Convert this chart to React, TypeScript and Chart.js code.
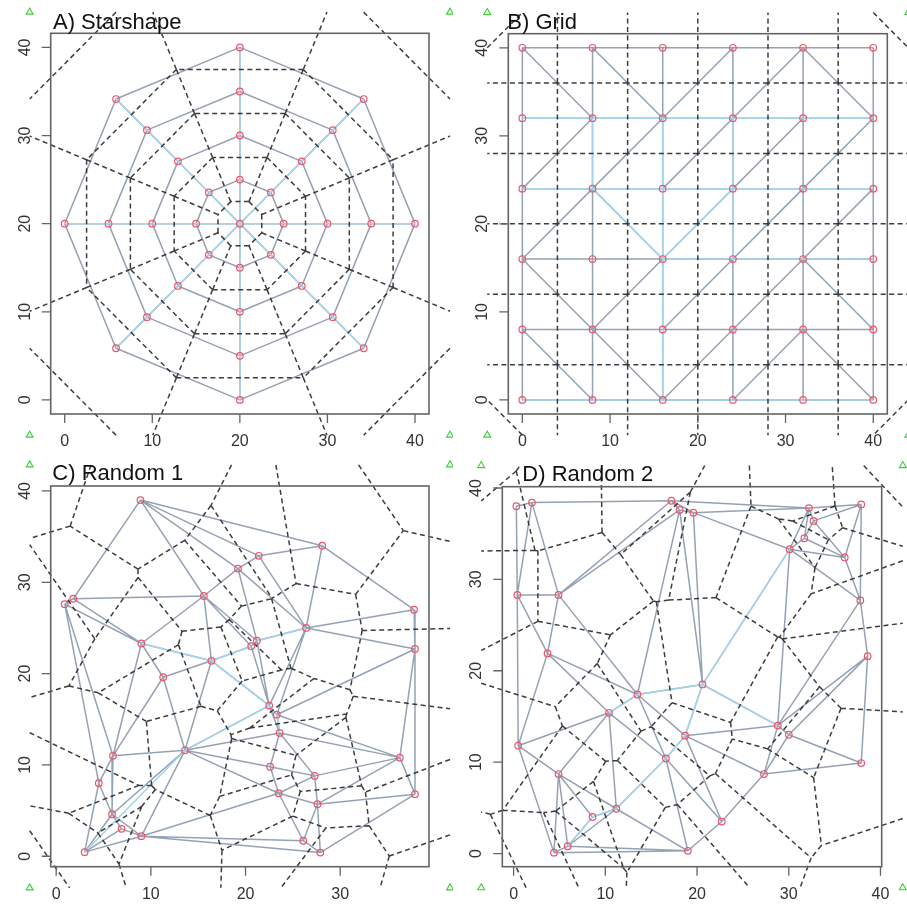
import React, { useEffect, useRef } from 'react';
import { Chart, registerables } from 'chart.js';

Chart.register(...registerables);

type P = [number, number];

// ---------- A) Starshape: centre point plus four rings of eight ----------
const starshapeX = [20,
  20, 23.54, 25, 23.54, 20, 16.46, 15, 16.46,
  20, 27.07, 30, 27.07, 20, 12.93, 10, 12.93,
  20, 30.61, 35, 30.61, 20, 9.39, 5, 9.39,
  20, 34.14, 40, 34.14, 20, 5.86, 0, 5.86];
const starshapeY = [20,
  25, 23.54, 20, 16.46, 15, 16.46, 20, 23.54,
  30, 27.07, 20, 12.93, 10, 12.93, 20, 27.07,
  35, 30.61, 20, 9.39, 5, 9.39, 20, 30.61,
  40, 34.14, 20, 5.86, 0, 5.86, 20, 34.14];
const starshapeHighlight: [number, number][] = [
  [0, 1], [0, 2], [0, 3], [0, 4], [0, 5], [0, 6], [0, 7], [0, 8],
  [1, 9], [2, 10], [3, 11], [4, 12], [5, 13], [6, 14], [7, 15], [8, 16],
  [9, 17], [10, 18], [11, 19], [12, 20], [13, 21], [14, 22], [15, 23], [16, 24],
  [17, 25], [18, 26], [19, 27], [20, 28], [21, 29], [22, 30], [23, 31], [24, 32],
];

// ---------- B) Grid ----------
const gridLevels = [0, 8, 16, 24, 32, 40];
// diagonal of each cell, rows listed from the top row down, cells left to right
const gridDiagonals = [
  ['\\', '\\', '/', '/', '\\'],
  ['/', '/', '/', '/', '/'],
  ['/', '\\', '/', '/', '/'],
  ['\\', '/', '/', '/', '\\'],
  ['\\', '\\', '/', '/', '\\'],
];
// point index = row * 6 + column (row 0 at y = 0)
const gridHighlight: [number, number][] = [
  [24, 25], [25, 26], [26, 27], [27, 28], [28, 29],
  [18, 19], [19, 20], [20, 21], [21, 22], [22, 23],
  [14, 15], [15, 16], [16, 17],
  [0, 1], [1, 2], [2, 3], [3, 4], [4, 5],
  [25, 19], [26, 20], [20, 14], [14, 8], [8, 2], [27, 21], [21, 15],
  [19, 14], [14, 21],
];

// ---------- C) Random 1 ----------
const random1X = [8.9, 28.1, 21.4, 19.2, 15.6, 1.8, 0.9, 37.8, 26.4, 9.0, 21.2, 20.6, 37.9, 16.4, 11.3,
  22.5, 23.3, 23.6, 13.6, 6.0, 36.3, 22.6, 27.3, 4.5, 23.5, 37.9, 27.6, 5.9, 6.9, 9.0, 26.1, 3.0, 27.9];
const random1Y = [39.0, 34.0, 32.9, 31.5, 28.5, 28.2, 27.6, 27.0, 25.0, 23.3, 23.6, 23.0, 22.7, 21.4, 19.6,
  16.5, 15.5, 13.5, 11.6, 11.0, 10.8, 9.8, 8.8, 8.0, 6.9, 6.8, 5.7, 4.6, 3.0, 2.2, 1.7, 0.45, 0.4];
const random1Highlight: [number, number][] = [
  [31, 18], [18, 15], [15, 13], [13, 9], [15, 16], [16, 17], [10, 8], [11, 13],
];

// ---------- D) Random 2 ----------
const random2X = [0.3, 2.0, 17.2, 18.1, 19.6, 32.2, 37.9, 32.7, 31.7, 30.1, 36.1, 0.4, 4.9, 37.8, 3.7, 38.6,
  20.6, 13.5, 10.4, 28.8, 30.0, 18.7, 0.5, 16.6, 37.9, 27.3, 4.9, 11.2, 8.6, 22.7, 5.9, 4.4, 19.0];
const random2Y = [38.0, 38.4, 38.6, 37.6, 37.3, 37.8, 38.2, 36.4, 34.5, 33.3, 32.4, 28.3, 28.3, 27.7, 21.9, 21.6,
  18.5, 17.4, 15.4, 14.0, 13.0, 12.9, 11.8, 10.4, 9.9, 8.7, 8.7, 4.9, 4.0, 3.5, 0.8, 0.1, 0.3];
const random2Highlight: [number, number][] = [
  [30, 28], [28, 27], [27, 23], [23, 21], [21, 16], [16, 9], [18, 17], [17, 16], [16, 19],
];

const axisTicks = [0, 10, 20, 30, 40];

// ---------- geometry ----------
function circumcenter(a: P, b: P, c: P): P {
  const d = 2 * (a[0] * (b[1] - c[1]) + b[0] * (c[1] - a[1]) + c[0] * (a[1] - b[1]));
  const a2 = a[0] * a[0] + a[1] * a[1];
  const b2 = b[0] * b[0] + b[1] * b[1];
  const c2 = c[0] * c[0] + c[1] * c[1];
  return [
    (a2 * (b[1] - c[1]) + b2 * (c[1] - a[1]) + c2 * (a[1] - b[1])) / d,
    (a2 * (c[0] - b[0]) + b2 * (a[0] - c[0]) + c2 * (b[0] - a[0])) / d,
  ];
}

const d2 = (p: P, q: P) => (p[0] - q[0]) ** 2 + (p[1] - q[1]) ** 2;
const keyOf = (a: number, b: number) => (a < b ? `${a},${b}` : `${b},${a}`);

// Bowyer-Watson triangulation
function triangulate(pts: P[]): number[][] {
  const n = pts.length;
  const xs = pts.map((p) => p[0]);
  const ys = pts.map((p) => p[1]);
  const minX = Math.min(...xs), maxX = Math.max(...xs), minY = Math.min(...ys), maxY = Math.max(...ys);
  const span = Math.max(maxX - minX, maxY - minY);
  const cx = (minX + maxX) / 2, cy = (minY + maxY) / 2, big = span * 100;
  const all: P[] = pts.concat([[cx - big, cy - big], [cx + big, cy - big], [cx, cy + big]]);
  const mk = (a: number, b: number, c: number) => {
    const cc = circumcenter(all[a], all[b], all[c]);
    return { v: [a, b, c], c: cc, r2: d2(cc, all[a]) };
  };
  let tris = [mk(n, n + 1, n + 2)];
  for (let i = 0; i < n; i++) {
    const p = all[i];
    const keep: typeof tris = [];
    const bad: typeof tris = [];
    for (const t of tris) (d2(p, t.c) < t.r2 - 1e-7 ? bad : keep).push(t);
    const count = new Map<string, number>();
    const edge = new Map<string, [number, number]>();
    for (const t of bad) {
      for (let k = 0; k < 3; k++) {
        const a = t.v[k], b = t.v[(k + 1) % 3];
        const key = keyOf(a, b);
        count.set(key, (count.get(key) || 0) + 1);
        edge.set(key, [a, b]);
      }
    }
    tris = keep;
    for (const [key, e] of edge) if (count.get(key) === 1) tris.push(mk(e[0], e[1], i));
  }
  return tris.filter((t) => t.v.every((v) => v < n)).map((t) => t.v);
}

function clipSeg(p: P, q: P, rx: P, ry: P): [P, P] | null {
  let t0 = 0, t1 = 1;
  const dx = q[0] - p[0], dy = q[1] - p[1];
  const checks: P[] = [[-dx, p[0] - rx[0]], [dx, rx[1] - p[0]], [-dy, p[1] - ry[0]], [dy, ry[1] - p[1]]];
  for (const [pp, qq] of checks) {
    if (pp === 0) {
      if (qq < 0) return null;
    } else {
      const r = qq / pp;
      if (pp < 0) {
        if (r > t1) return null;
        if (r > t0) t0 = r;
      } else {
        if (r < t0) return null;
        if (r < t1) t1 = r;
      }
    }
  }
  return [[p[0] + t0 * dx, p[1] + t0 * dy], [p[0] + t1 * dx, p[1] + t1 * dy]];
}

function extendRange(v: number[], f: number): P {
  const lo = Math.min(...v), hi = Math.max(...v), r = hi - lo;
  return [lo - f * r, hi + f * r];
}

// Delaunay triangulation and Dirichlet tessellation with dummy points at the
// corners of the enclosing window; tiles are clipped to that window.
function buildDiagram(xs: number[], ys: number[], mergeCocircular: boolean) {
  const n = xs.length;
  const rx = extendRange(xs, 0.1), ry = extendRange(ys, 0.1);
  const dummies: P[] = [[rx[0], ry[0]], [rx[1], ry[0]], [rx[1], ry[1]], [rx[0], ry[1]]];
  const pts: P[] = xs.map((x, i) => [x, ys[i]] as P).concat(dummies);
  const tris = triangulate(pts);
  const centres = tris.map((t) => circumcenter(pts[t[0]], pts[t[1]], pts[t[2]]));
  const edgeTris = new Map<string, number[]>();
  tris.forEach((t, k) => {
    for (let j = 0; j < 3; j++) {
      const key = keyOf(t[j], t[(j + 1) % 3]);
      if (!edgeTris.has(key)) edgeTris.set(key, []);
      edgeTris.get(key)!.push(k);
    }
  });
  const delaunay: [P, P][] = [];
  const tiles: [P, P][] = [];
  for (const [key, ks] of edgeTris) {
    const [a, b] = key.split(',').map(Number);
    let seg: [P, P];
    if (ks.length === 2) {
      seg = [centres[ks[0]], centres[ks[1]]];
    } else {
      const t = tris[ks[0]];
      const c = t.find((v) => v !== a && v !== b)!;
      const pa = pts[a], pb = pts[b], pc = pts[c];
      let nx = -(pb[1] - pa[1]), ny = pb[0] - pa[0];
      if ((pc[0] - pa[0]) * nx + (pc[1] - pa[1]) * ny > 0) { nx = -nx; ny = -ny; }
      const o = centres[ks[0]];
      const L = 1e4 / Math.hypot(nx, ny);
      seg = [o, [o[0] + nx * L, o[1] + ny * L]];
    }
    const len = Math.hypot(seg[1][0] - seg[0][0], seg[1][1] - seg[0][1]);
    if (!(a >= n && b >= n) && len > 0.05) {
      const cl = clipSeg(seg[0], seg[1], rx, ry);
      if (cl) tiles.push(cl);
    }
    if (a < n && b < n && !(mergeCocircular && len < 0.3)) delaunay.push([pts[a], pts[b]]);
  }
  return {
    pts: pts.slice(0, n),
    dummies,
    delaunay,
    tiles,
    xlim: extendRange(xs, 0.04),
    ylim: extendRange(ys, 0.04),
  };
}

const flatten = (segs: [P, P][]) => {
  const out: { x: number; y: number }[] = [];
  for (const [p, q] of segs) {
    out.push({ x: p[0], y: p[1] }, { x: q[0], y: q[1] }, { x: NaN, y: NaN });
  }
  return out;
};

// ---------- panel definitions ----------
const gridX = gridLevels.flatMap(() => gridLevels);
const gridY = gridLevels.flatMap((v) => gridLevels.map(() => v));
const gridDiagonalEdges: [number, number][] = [];
gridDiagonals.forEach((row, r) => {
  const j = gridDiagonals.length - 1 - r;
  row.forEach((d, i) => {
    if (d === '/') gridDiagonalEdges.push([j * 6 + i, (j + 1) * 6 + i + 1]);
    else gridDiagonalEdges.push([(j + 1) * 6 + i, j * 6 + i + 1]);
  });
});

interface PanelSpec {
  title: string;
  xs: number[];
  ys: number[];
  highlight: [number, number][];
  extra: [number, number][];
  merge: boolean;
}

const panels: PanelSpec[] = [
  { title: 'A) Starshape', xs: starshapeX, ys: starshapeY, highlight: starshapeHighlight, extra: [], merge: true },
  { title: 'B) Grid', xs: gridX, ys: gridY, highlight: gridHighlight, extra: gridDiagonalEdges, merge: true },
  { title: 'C) Random 1', xs: random1X, ys: random1Y, highlight: random1Highlight, extra: [], merge: false },
  { title: 'D) Random 2', xs: random2X, ys: random2Y, highlight: random2Highlight, extra: [], merge: false },
];

const layouts = [
  { left: 0, top: 0, w: 453, h: 452, pad: { left: 50.7, top: 33.3, right: 24, bottom: 38 }, titleAt: [53, 29.3] },
  { left: 453, top: 0, w: 454, h: 452, pad: { left: 55.3, top: 33.7, right: 19.7, bottom: 38 }, titleAt: [54.3, 29.3] },
  { left: 0, top: 452, w: 453, h: 453, pad: { left: 50.7, top: 34, right: 24, bottom: 38.3 }, titleAt: [52.3, 28] },
  { left: 453, top: 452, w: 454, h: 453, pad: { left: 49.3, top: 34.7, right: 25.3, bottom: 38.3 }, titleAt: [69.3, 28.7] },
];

const FONT = '"Liberation Sans", Arial, Helvetica, sans-serif';
const WIDE_AREA = { left: -1e4, top: -1e4, right: 1e4, bottom: 1e4 };

function makeFramePlugin(title: string, titleAt: number[]) {
  return {
    id: 'rFrame',
    afterDatasetsDraw(chart: any) {
      // window-corner dummy points sit outside the plot box, so draw them unclipped
      const meta = chart.getDatasetMeta(1);
      meta.data.forEach((el: any) => el.draw(chart.ctx, WIDE_AREA));
    },
    afterDraw(chart: any) {
      const { ctx, chartArea: a, scales } = chart;
      const xs = scales.x, ys = scales.y;
      ctx.save();
      ctx.strokeStyle = '#646464';
      ctx.lineWidth = 1.6;
      ctx.strokeRect(a.left, a.top, a.right - a.left, a.bottom - a.top);
      ctx.fillStyle = '#333';
      ctx.font = `16px ${FONT}`;
      ctx.lineWidth = 1.3;
      const xt = axisTicks.filter((v) => v >= xs.min && v <= xs.max);
      const yt = axisTicks.filter((v) => v >= ys.min && v <= ys.max);
      ctx.beginPath();
      for (const v of xt) {
        const px = xs.getPixelForValue(v);
        ctx.moveTo(px, a.bottom);
        ctx.lineTo(px, a.bottom + 9);
      }
      for (const v of yt) {
        const py = ys.getPixelForValue(v);
        ctx.moveTo(a.left, py);
        ctx.lineTo(a.left - 9, py);
      }
      ctx.stroke();
      ctx.textAlign = 'center';
      ctx.textBaseline = 'middle';
      for (const v of xt) ctx.fillText(String(v), xs.getPixelForValue(v), a.bottom + 27.7);
      for (const v of yt) {
        ctx.save();
        ctx.translate(a.left - 25.5, ys.getPixelForValue(v));
        ctx.rotate(-Math.PI / 2);
        ctx.fillText(String(v), 0, 0);
        ctx.restore();
      }
      ctx.fillStyle = '#111';
      ctx.font = `22px ${FONT}`;
      ctx.textAlign = 'left';
      ctx.textBaseline = 'alphabetic';
      ctx.fillText(title, titleAt[0], titleAt[1]);
      ctx.restore();
    },
  };
}

function Panel({ spec, layout }: { spec: PanelSpec; layout: (typeof layouts)[number] }) {
  const ref = useRef<HTMLCanvasElement>(null);
  useEffect(() => {
    const dg = buildDiagram(spec.xs, spec.ys, spec.merge);
    const toSeg = (pairs: [number, number][]) => pairs.map(([i, j]) => [dg.pts[i], dg.pts[j]] as [P, P]);
    const chart = new Chart(ref.current!, {
      type: 'scatter',
      data: {
        datasets: [
          {
            type: 'scatter',
            data: dg.pts.map(([x, y]) => ({ x, y })),
            pointStyle: 'circle',
            pointRadius: 3.3,
            pointBorderWidth: 1.2,
            pointBorderColor: '#f0566a',
            pointBackgroundColor: 'rgba(0,0,0,0)',
            clip: false,
            order: 0,
          },
          {
            type: 'scatter',
            data: dg.dummies.map(([x, y]) => ({ x, y })),
            pointStyle: 'triangle',
            pointRadius: 4,
            pointBorderWidth: 1.1,
            pointBorderColor: '#3ccf3c',
            pointBackgroundColor: 'rgba(0,0,0,0)',
            clip: false,
            order: 0,
          },
          {
            type: 'line',
            data: flatten(dg.tiles),
            borderColor: 'rgba(40,40,40,0.9)',
            borderWidth: 1.5,
            borderDash: [5, 3.5],
            pointRadius: 0,
            tension: 0,
            spanGaps: false,
            fill: false,
            clip: false,
            order: 1,
          },
          {
            type: 'line',
            data: flatten(toSeg(spec.highlight)),
            borderColor: '#a6d4ee',
            borderWidth: 1.5,
            pointRadius: 0,
            tension: 0,
            spanGaps: false,
            fill: false,
            clip: false,
            order: 2,
          },
          {
            type: 'line',
            data: flatten(dg.delaunay.concat(toSeg(spec.extra))),
            borderColor: '#95a2b4',
            borderWidth: 1.5,
            pointRadius: 0,
            tension: 0,
            spanGaps: false,
            fill: false,
            clip: false,
            order: 3,
          },
        ],
      },
      options: {
        animation: false,
        responsive: false,
        devicePixelRatio: 1,
        events: [],
        layout: { padding: layout.pad },
        scales: {
          x: { type: 'linear', min: dg.xlim[0], max: dg.xlim[1], display: false },
          y: { type: 'linear', min: dg.ylim[0], max: dg.ylim[1], display: false },
        },
        plugins: { legend: { display: false }, tooltip: { enabled: false } },
      },
      plugins: [makeFramePlugin(spec.title, layout.titleAt)],
    } as any);
    return () => chart.destroy();
  }, [spec, layout]);
  return (
    <canvas
      ref={ref}
      width={layout.w}
      height={layout.h}
      style={{ position: 'absolute', left: layout.left, top: layout.top, width: layout.w, height: layout.h }}
    />
  );
}

export default function App() {
  return (
    <div style={{ position: 'absolute', left: 0, top: 0, width: 907, height: 905, background: '#fff', overflow: 'hidden' }}>
      {panels.map((p, i) => (
        <Panel key={p.title} spec={p} layout={layouts[i]} />
      ))}
    </div>
  );
}
